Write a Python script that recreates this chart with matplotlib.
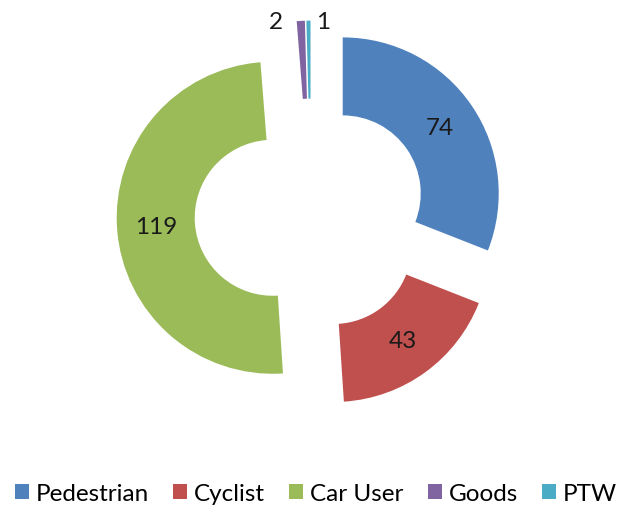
import matplotlib.pyplot as plt
import numpy as np

categories = ['Pedestrian', 'Cyclist', 'Car User', 'Goods', 'PTW']
values = [74, 43, 119, 2, 1]
colors = ['#4F81BD', '#C0504D', '#9BBB59', '#8064A2', '#4BACC6']

plt.rcParams['font.family'] = ['Lato', 'DejaVu Sans']

fig = plt.figure(figsize=(6.22, 5.10), dpi=100)
ax = fig.add_axes([0, 0, 1, 1])
ax.set_xlim(0, 622)
ax.set_ylim(0, 510)
ax.set_aspect('equal')
ax.axis('off')

R = 156
center = (311, 294)
# pie explode is in data units, so scale it by the radius
wedges, _ = ax.pie(values, colors=colors, radius=R, center=center,
                   startangle=90, counterclock=False,
                   explode=[0.246 * R] * len(values),
                   wedgeprops=dict(width=R / 2, linewidth=0))
ax.set_xlim(0, 622)
ax.set_ylim(0, 510)

# value labels: mid-ring for the big slices, outside for the tiny ones
for w, v in zip(wedges, values):
    ang = np.deg2rad((w.theta1 + w.theta2) / 2)
    cx, cy = w.center
    if v > 10:
        r = R * 0.75
        ax.text(cx + r * np.cos(ang), cy + r * np.sin(ang), str(v),
                ha='center', va='center', fontsize=17.5, color='#1a1a1a')
    else:
        x = cx + R * np.cos(ang)
        y = cy + R * np.sin(ang)
        dx = -25 if v == 2 else 15
        ax.text(x + dx, y - 1, str(v), ha='center', va='center',
                fontsize=17.5, color='#1a1a1a')

leg = ax.legend(wedges, categories, loc='center', ncol=5,
                bbox_to_anchor=(316 / 622, 15 / 510), frameon=False,
                fontsize=17.5, handlelength=0.58, handleheight=0.58,
                handletextpad=0.28, columnspacing=1.0, borderaxespad=0)

fig.savefig('out.png', dpi=100)
